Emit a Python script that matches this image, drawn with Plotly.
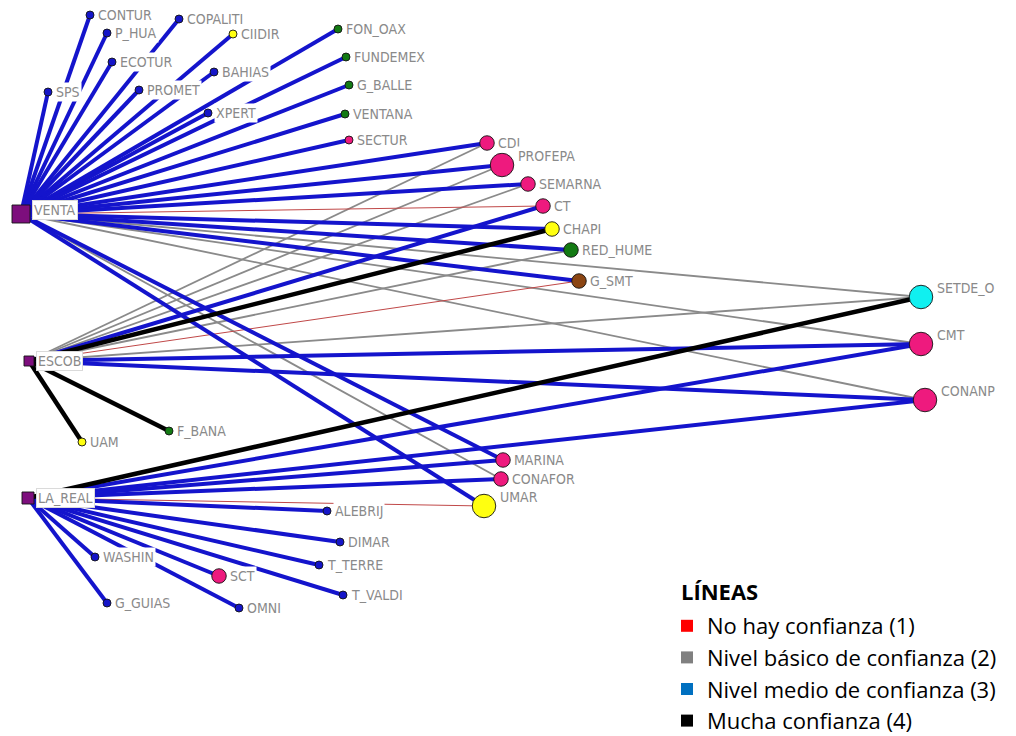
import plotly.graph_objects as go

# ---------------- data ----------------
node_names = ["VENTA", "ESCOB", "LA_REAL",
              "CONTUR", "P_HUA", "COPALITI", "CIIDIR", "ECOTUR", "SPS", "PROMET",
              "BAHIAS", "XPERT", "FON_OAX", "FUNDEMEX", "G_BALLE", "VENTANA", "SECTUR",
              "CDI", "PROFEPA", "SEMARNA", "CT", "CHAPI", "RED_HUME", "G_SMT",
              "SETDE_O", "CMT", "CONANP", "MARINA", "CONAFOR", "UMAR",
              "UAM", "F_BANA", "ALEBRIJ", "DIMAR", "T_TERRE", "WASHIN", "SCT",
              "G_GUIAS", "OMNI", "T_VALDI"]
node_group = ["morado", "morado", "morado",
              "azul", "azul", "azul", "amarillo", "azul", "azul", "azul",
              "azul", "azul", "verde", "verde", "verde", "verde", "rosa",
              "rosa", "rosa", "rosa", "rosa", "amarillo", "verde", "cafe",
              "cian", "rosa", "rosa", "rosa", "rosa", "amarillo",
              "amarillo", "verde", "azul", "azul", "azul", "azul", "rosa",
              "azul", "azul", "azul"]
node_weight = [3, 1, 2,
               1, 1, 1, 1, 1, 1, 1,
               1, 1, 1, 1, 1, 1, 1,
               2, 3, 2, 2, 2, 2, 2,
               3, 3, 3, 2, 2, 3,
               1, 1, 1, 1, 1, 1, 2,
               1, 1, 1]
# layout coordinates of the network drawing
layout_x = [21, 29, 28,
            90, 107, 179, 233, 112, 48, 139,
            214, 208, 338, 346, 349, 345, 349,
            487, 502, 528, 543, 552, 571, 579,
            921, 921, 925, 503, 501, 484,
            82, 169, 327, 340, 319, 95, 219,
            107, 239, 343]
layout_y = [214, 361, 498,
            15, 33, 19, 34, 62, 92, 90,
            72, 113, 29, 57, 85, 114, 140,
            143, 165, 184, 206, 229, 250, 281,
            297, 344, 400, 460, 479, 506,
            442, 431, 511, 542, 565, 557, 576,
            603, 608, 595]

edge_source = (["VENTA"] * 27) + (["ESCOB"] * 12) + (["LA_REAL"] * 14)
edge_target = ["CONTUR", "P_HUA", "COPALITI", "CIIDIR", "ECOTUR", "SPS", "PROMET", "BAHIAS",
               "XPERT", "FON_OAX", "FUNDEMEX", "G_BALLE", "VENTANA", "SECTUR", "CDI",
               "PROFEPA", "SEMARNA", "CT", "CHAPI", "RED_HUME", "G_SMT", "SETDE_O", "CMT",
               "CONANP", "MARINA", "CONAFOR", "UMAR",
               "CDI", "PROFEPA", "SEMARNA", "CT", "CHAPI", "RED_HUME", "G_SMT", "SETDE_O",
               "CMT", "CONANP", "UAM", "F_BANA",
               "SETDE_O", "CMT", "CONANP", "MARINA", "CONAFOR", "UMAR", "ALEBRIJ", "DIMAR",
               "T_TERRE", "T_VALDI", "SCT", "OMNI", "WASHIN", "G_GUIAS"]
edge_level = [3, 3, 3, 3, 3, 3, 3, 3,
              3, 3, 3, 3, 3, 3, 3,
              3, 3, 1, 3, 3, 3, 2, 2,
              2, 3, 2, 3,
              2, 2, 2, 3, 4, 2, 1, 2,
              3, 3, 4, 4,
              4, 3, 3, 3, 3, 1, 3, 3,
              3, 3, 3, 3, 3, 3]

level_names = ["No hay confianza (1)", "Nivel básico de confianza (2)",
               "Nivel medio de confianza (3)", "Mucha confianza (4)"]
legend_title = "LÍNEAS"

# ---------------- styles ----------------
group_color = {"morado": "#7D0E7D", "azul": "#1515C8", "amarillo": "#FFFF10",
               "verde": "#137A13", "rosa": "#EE1A7E", "cafe": "#8B4513", "cian": "#10F0F0"}
actor_size = {1: 10, 2: 12, 3: 18}
org_size = {1: 8, 2: 14.5, 3: 23.5}
edge_color = {1: "#C04848", 2: "#8A8A8A", 3: "#1414CC", 4: "#000000"}
edge_width = {1: 1.0, 2: 1.8, 3: 4.0, 4: 4.5}
legend_color = {1: "#FF0000", 2: "#808080", 3: "#0070C0", 4: "#000000"}

pos = {n: (x, y) for n, x, y in zip(node_names, layout_x, layout_y)}

fig = go.Figure()

# edges, one trace per level
for lvl in [2, 1, 3, 4]:
    xs, ys = [], []
    for s, t, l in zip(edge_source, edge_target, edge_level):
        if l == lvl:
            xs += [pos[s][0], pos[t][0], None]
            ys += [pos[s][1], pos[t][1], None]
    fig.add_trace(go.Scatter(x=xs, y=ys, mode="lines",
                             line=dict(color=edge_color[lvl], width=edge_width[lvl]),
                             hoverinfo="skip", showlegend=False))

# nodes
is_actor = [g == "morado" for g in node_group]
sizes = [actor_size[w] if a else org_size[w] for w, a in zip(node_weight, is_actor)]
fig.add_trace(go.Scatter(
    x=layout_x, y=layout_y, mode="markers", text=node_names, hoverinfo="text",
    marker=dict(color=[group_color[g] for g in node_group], size=sizes, opacity=1,
                symbol=["square" if a else "circle" for a in is_actor],
                line=dict(color="rgba(20,20,20,0.9)", width=1)),
    showlegend=False))

# labels
for n, x, y, s, a in zip(node_names, layout_x, layout_y, sizes, is_actor):
    dy = -max(0, s - 14) * 0.9
    fig.add_annotation(x=x + s / 2 + 2, y=y + dy, text=n, showarrow=False,
                       xanchor="left", yanchor="middle", bgcolor="white", borderpad=1,
                       bordercolor="#DADADA" if a else "rgba(0,0,0,0)", borderwidth=1,
                       font=dict(family="DejaVu Sans Condensed, DejaVu Sans", size=14,
                                 color="#8A8A8A"))

# legend entries
for i, name in enumerate(level_names):
    fig.add_trace(go.Scatter(x=[None], y=[None], mode="markers", name=name,
                             legendgroup=name,
                             marker=dict(symbol="square", size=12, color=legend_color[i + 1])))

fig.add_annotation(xref="paper", yref="paper", x=679 / 1016, y=1 - 591 / 736,
                   text="<b>" + legend_title + "</b>", showarrow=False,
                   xanchor="left", yanchor="middle",
                   font=dict(family="Open Sans", size=22, color="#000000"))

fig.update_layout(
    width=1016, height=736,
    margin=dict(l=0, r=0, t=0, b=0, autoexpand=False),
    paper_bgcolor="white", plot_bgcolor="white",
    xaxis=dict(range=[0, 1016], visible=False, fixedrange=True),
    yaxis=dict(range=[736, 0], visible=False, fixedrange=True),
    legend=dict(x=667 / 1016, y=1 - 605 / 736, xanchor="left", yanchor="top",
                font=dict(family="Open Sans", size=22, color="#000000"),
                tracegroupgap=0, bgcolor="rgba(0,0,0,0)", itemclick=False),
)

fig.write_html("out.html", post_script="document.body.style.margin='0px';",
               config={"displayModeBar": False})
